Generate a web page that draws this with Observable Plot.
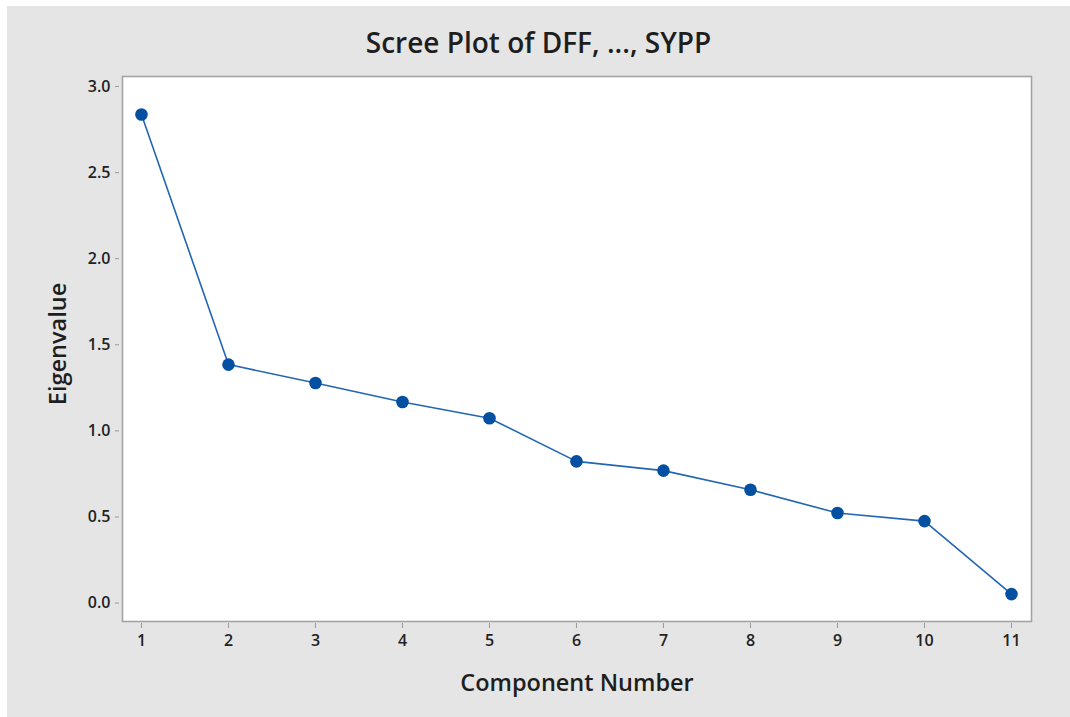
<!DOCTYPE html>
<html>
<head>
<meta charset="utf-8">
<script src="https://cdn.jsdelivr.net/npm/d3@7"></script>
<script src="https://cdn.jsdelivr.net/npm/@observablehq/plot@0.6"></script>
<style>
  html, body { margin: 0; padding: 0; background: #ffffff; overflow: hidden; }
  #panel { position: absolute; left: 7px; top: 6px; width: 1063px; height: 711px; background: #e5e5e5; font-family: "Open Sans", sans-serif; }
  #title { height: 60px; line-height: 72px; text-align: center; font-size: 28px; font-weight: 600; color: #1e1e1e; }
  #chart svg { display: block; }
</style>
</head>
<body>
<div id="panel">
  <div id="title">Scree Plot of DFF, ..., SYPP</div>
  <div id="chart"></div>
</div>
<script>
const components = [1, 2, 3, 4, 5, 6, 7, 8, 9, 10, 11];
const eigenvalues = [2.837, 1.385, 1.278, 1.168, 1.073, 0.823, 0.769, 0.658, 0.523, 0.476, 0.052];
const xTicks = [1, 2, 3, 4, 5, 6, 7, 8, 9, 10, 11];
const yTicks = [0.0, 0.5, 1.0, 1.5, 2.0, 2.5, 3.0];
const xLabel = "Component Number";
const yLabel = "Eigenvalue";

const data = components.map((c, i) => ({component: c, eigenvalue: eigenvalues[i]}));

const chart = Plot.plot({
  width: 1063,
  height: 651,
  marginLeft: 115,
  marginTop: 10,
  marginRight: 39,
  marginBottom: 96,
  style: {background: "transparent", fontFamily: "Open Sans, sans-serif", color: "#222"},
  x: {domain: [0.782, 11.23], axis: null},
  y: {domain: [-0.107, 3.058], axis: null},
  marks: [
    Plot.frame({fill: "white", stroke: "#a3a3a3", strokeWidth: 1.6}),
    Plot.axisX(xTicks, {anchor: "bottom", tickSize: 5, dy: 2, tickPadding: 6, stroke: "#9a9a9a", fill: "#222", fontSize: 16, fontWeight: 600, label: null, tickFormat: d => String(d)}),
    Plot.axisY(yTicks, {anchor: "left", tickSize: 4, dx: -3, tickPadding: 5, stroke: "#9a9a9a", fill: "#222", fontSize: 16, fontWeight: 600, label: null, tickFormat: d3.format(".1f")}),
    Plot.line(data, {x: "component", y: "eigenvalue", stroke: "#2266b3", strokeWidth: 1.6}),
    Plot.dot(data, {x: "component", y: "eigenvalue", r: 6.3, fill: "#0350a3", stroke: "none"}),
    Plot.text([xLabel], {frameAnchor: "bottom", dy: 62, textAnchor: "middle", lineAnchor: "middle", fontSize: 23.5, fontWeight: 600, fill: "#1e1e1e"}),
    Plot.text([yLabel], {frameAnchor: "left", dx: -64, dy: -5, rotate: -90, textAnchor: "middle", lineAnchor: "middle", fontSize: 23.5, fontWeight: 600, fill: "#1e1e1e"})
  ]
});
document.getElementById("chart").appendChild(chart);
</script>
</body>
</html>
